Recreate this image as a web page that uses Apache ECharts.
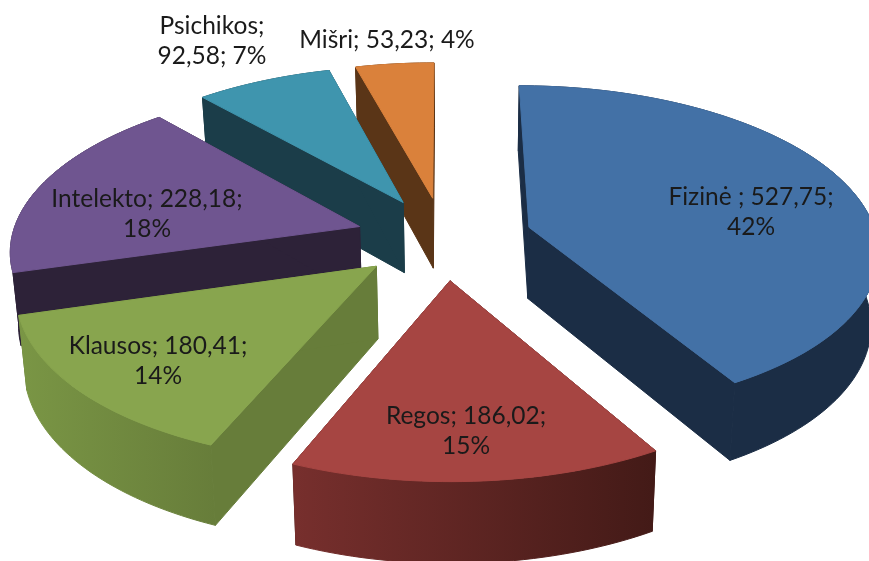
<!DOCTYPE html>
<html>
<head>
<meta charset="utf-8">
<style>
html, body { margin: 0; padding: 0; background: #fff; }
#main { width: 869px; height: 561px; }
</style>
<script src="https://cdn.jsdelivr.net/npm/echarts@6/dist/echarts.min.js"></script>
</head>
<body>
<div id="main"></div>
<script>
const categories = ['Fizinė ', 'Regos', 'Klausos', 'Intelekto', 'Psichikos', 'Mišri'];
const values = [527.75, 186.02, 180.41, 228.18, 92.58, 53.23];

const topColors = ['#4371a6', '#a64542', '#88a54e', '#6f5590', '#3f95ae', '#da813b'];
const cutColors = ['#1b2d45', '#431a17', '#677d3a', '#2d2238', '#1b3d49', '#5a3517'];
const wallFrom = ['#1b2d45', '#772f2d', '#7a9645', '#2d2238', '#1b3d49', '#5a3517'];
const wallTo = ['#1b2d45', '#431a17', '#677d3a', '#2d2238', '#1b3d49', '#5a3517'];

// back to front, so nearer slices cover the others
const paintOrder = [5, 4, 3, 2, 0, 1];
// line break comes after this many ';' parts
const labelBreak = [2, 2, 2, 2, 1, 3];
const labelPos = [[751, 212], [466, 431], [158, 361], [147, 214], [212, 41], [387, 40]];

// perspective of the pie plane, fitted on the picture
const CX = 444, AX = 348, AY = 131.6, BY = 238, PERSP = 0.13, EXPLODE = 0.255;
// bottom of the extrusion as a function of the top point
const VX = 465, BOTTOM_X = 0.982, BOTTOM_Y = 1.042, BOTTOM_DY = 61.6;

const total = values.reduce((a, b) => a + b, 0);
const startAngles = [];
values.reduce((acc, v, i) => { startAngles[i] = acc; return acc + v; }, 0);

function project(u, v) {
    const w = 1 - PERSP * v;
    return [CX + AX * u / w, (AY * v + BY) / w];
}
function lower(p) {
    return [VX + (p[0] - VX) * BOTTOM_X, p[1] * BOTTOM_Y + BOTTOM_DY];
}
function labelText(i) {
    const parts = [
        categories[i],
        String(values[i].toFixed(2)).replace('.', ','),
        Math.round(values[i] / total * 100) + '%'
    ];
    let s = '';
    parts.forEach((p, k) => {
        s += p;
        if (k < 2) s += ';';
        if (k < 2) s += (k + 1 === labelBreak[i]) ? '\n' : ' ';
    });
    return s;
}

function renderSlice(params, api) {
    const i = api.value(0);
    const a0 = startAngles[i] / total * Math.PI * 2;
    const a1 = a0 + api.value(1) / total * Math.PI * 2;
    const mid = (a0 + a1) / 2;
    const ou = EXPLODE * Math.sin(mid), ov = -EXPLODE * Math.cos(mid);

    const apex = project(ou, ov);
    const arc = [];
    const steps = Math.max(8, Math.round((a1 - a0) * 40));
    for (let k = 0; k <= steps; k++) {
        const a = a0 + (a1 - a0) * k / steps;
        arc.push(project(ou + Math.sin(a), ov - Math.cos(a)));
    }
    const arcLow = arc.map(lower);
    const apexLow = lower(apex);
    const first = arc[0], last = arc[arc.length - 1];
    const base = params.dataIndex * 10;

    const poly = (points, fill, z, stroke) => ({
        type: 'polygon',
        z2: base + z,
        shape: { points: points },
        style: { fill: fill, stroke: stroke, lineWidth: 1 }
    });
    const wallFill = new echarts.graphic.LinearGradient(0, 0, 1, 0, [
        { offset: 0, color: wallFrom[i] },
        { offset: 1, color: wallTo[i] }
    ]);
    return {
        type: 'group',
        children: [
            poly([apex, first, arcLow[0], apexLow], cutColors[i], 0, cutColors[i]),
            poly([apex, last, arcLow[arcLow.length - 1], apexLow], cutColors[i], 1, cutColors[i]),
            poly(arc.concat(arcLow.slice().reverse()), wallFill, 2, wallFill),
            poly([apex].concat(arc), topColors[i], 3, topColors[i]),
            {
                type: 'text',
                z2: 1000 + i,
                style: {
                    text: labelText(i),
                    x: labelPos[i][0],
                    y: labelPos[i][1],
                    align: 'center',
                    verticalAlign: 'middle',
                    fontFamily: 'Lato',
                    fontSize: 24.5,
                    lineHeight: 30,
                    fill: '#1a1a1a'
                }
            }
        ]
    };
}

const chart = echarts.init(document.getElementById('main'), null, { renderer: 'canvas' });
chart.setOption({
    backgroundColor: '#ffffff',
    animation: false,
    series: [{
        type: 'custom',
        coordinateSystem: 'none',
        silent: true,
        clip: false,
        renderItem: renderSlice,
        data: paintOrder.map(i => [i, values[i]])
    }]
});
</script>
</body>
</html>
